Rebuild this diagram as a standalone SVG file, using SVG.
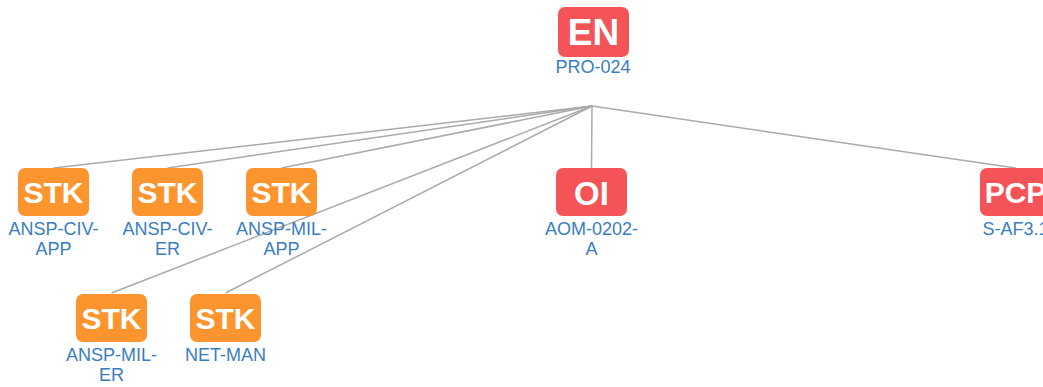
<svg xmlns="http://www.w3.org/2000/svg" width="1043" height="387" viewBox="0 0 1043 387">
<style>
.edge{stroke:#aaaaaa;stroke-width:1.5;fill:none}
.stk{fill:#fc952e}
.red{fill:#f45458}
.ic{font-family:"Liberation Sans",Arial,sans-serif;font-weight:bold;fill:#ffffff;text-anchor:middle}
.lb{font-family:"Liberation Sans",Arial,sans-serif;font-size:18px;fill:#3a7dbf;text-anchor:middle}
</style>
<rect width="1043" height="387" fill="#ffffff"/>
<g id="connectors">
<line class="edge" x1="592" y1="106" x2="53.5" y2="168"/>
<line class="edge" x1="592" y1="106" x2="167.5" y2="168"/>
<line class="edge" x1="592" y1="106" x2="281.5" y2="168"/>
<line class="edge" x1="592" y1="106" x2="111.5" y2="293"/>
<line class="edge" x1="592" y1="106" x2="225.5" y2="293"/>
<line class="edge" x1="592" y1="106" x2="591.5" y2="168"/>
<line class="edge" x1="592" y1="106" x2="1015.5" y2="168"/>
</g>
<g id="EN">
<rect class="red" x="558" y="7" width="71" height="50" rx="7"/>
<text class="ic" x="593.5" y="45" font-size="37">EN</text>
<text class="lb" x="593" y="73">PRO-024</text>
</g>
<g id="STK1">
<rect class="stk" x="18" y="168" width="71" height="48" rx="7"/>
<text class="ic" x="53.5" y="203" font-size="30">STK</text>
<text class="lb" x="53.5" y="235">ANSP-CIV-</text>
<text class="lb" x="53.5" y="255">APP</text>
</g>
<g id="STK2">
<rect class="stk" x="132" y="168" width="71" height="48" rx="7"/>
<text class="ic" x="167.5" y="203" font-size="30">STK</text>
<text class="lb" x="167.5" y="235">ANSP-CIV-</text>
<text class="lb" x="167.5" y="255">ER</text>
</g>
<g id="STK3">
<rect class="stk" x="246" y="168" width="71" height="48" rx="7"/>
<text class="ic" x="281.5" y="203" font-size="30">STK</text>
<text class="lb" x="281.5" y="235">ANSP-MIL-</text>
<text class="lb" x="281.5" y="255">APP</text>
</g>
<g id="STK4">
<rect class="stk" x="76" y="294" width="71" height="48" rx="7"/>
<text class="ic" x="111.5" y="329" font-size="30">STK</text>
<text class="lb" x="111.5" y="361">ANSP-MIL-</text>
<text class="lb" x="111.5" y="381">ER</text>
</g>
<g id="STK5">
<rect class="stk" x="190" y="294" width="71" height="48" rx="7"/>
<text class="ic" x="225.5" y="329" font-size="30">STK</text>
<text class="lb" x="225.5" y="361">NET-MAN</text>
</g>
<g id="OI">
<rect class="red" x="556" y="168" width="71" height="48" rx="7"/>
<text class="ic" x="591.5" y="205" font-size="33">OI</text>
<text class="lb" x="591.5" y="235">AOM-0202-</text>
<text class="lb" x="591.5" y="255">A</text>
</g>
<g id="PCP">
<rect class="red" x="980" y="168" width="71" height="48" rx="7"/>
<text class="ic" x="1015.5" y="203" font-size="30">PCP</text>
<text class="lb" x="1015.5" y="235">S-AF3.1</text>
</g>
</svg>
